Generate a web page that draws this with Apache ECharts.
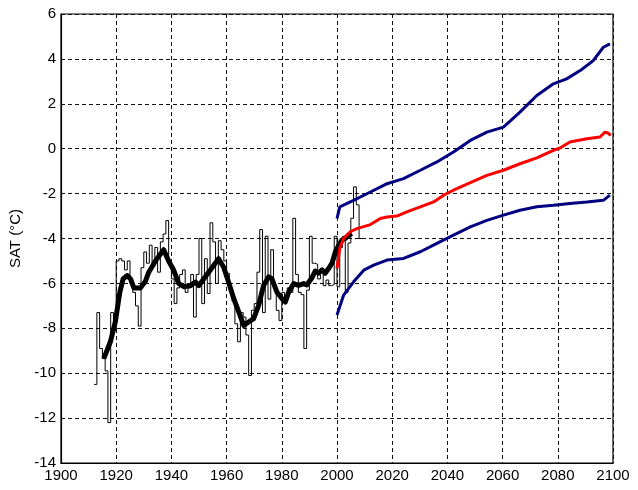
<!DOCTYPE html>
<html>
<head>
<meta charset="utf-8">
<title>SAT</title>
<script src="https://cdn.jsdelivr.net/npm/echarts@6/dist/echarts.min.js"></script>
<style>
	html, body { margin: 0; padding: 0; background: #ffffff; }
	#main { width: 638px; height: 490px; }
</style>
</head>
<body>
<div id="main"></div>
<script>

// annual values (stairs), first year 1912
var annualStart = 1912;
var annualValues = [
	-10.5, -7.3, -8.9, -9.35, -9.9, -12.2, -7.3, -8.1, -5.0, -4.9,
	-5.0, -5.4, -5.0, -6.0, -6.4, -7.0, -7.9, -5.3, -4.6, -5.1,
	-4.3, -5.2, -4.4, -5.5, -4.15, -3.8, -3.2, -5.0, -5.8, -6.9,
	-6.2, -5.6, -5.4, -6.4, -6.2, -5.6, -7.5, -5.6, -4.0, -6.9,
	-4.9, -6.45, -3.3, -4.15, -6.0, -4.1, -4.5, -5.0, -5.55, -6.2,
	-6.8, -7.8, -8.6, -7.3, -7.5, -8.3, -10.1, -7.2, -6.9, -5.5,
	-3.6, -7.3, -3.9, -6.7, -4.5, -6.2, -7.2, -7.65, -6.4, -6.7,
	-6.2, -6.4, -3.1, -5.6, -6.4, -6.5, -8.9, -6.3, -3.9, -5.1,
	-5.15, -5.8, -5.4, -6.1, -5.85, -6.1, -6.05, -3.9, -6.15, -4.4,
	-3.9, -6.4, -4.2, -3.1, -1.7, -2.5, -4.0, -4.0
];

// smoothed observations (thick black)
var smoothYears = [1915.5, 1917.9, 1919.7, 1921.3, 1922.5, 1924, 1925.2, 1926.4, 1928.8, 1930.6,
	1931.8, 1934.2, 1936, 1937.2, 1939, 1940.8, 1942.6, 1944.5, 1946.9, 1948.7,
	1949.9, 1951.7, 1953.5, 1955.3, 1957.1, 1958.9, 1960.7, 1962.6, 1964.4, 1966.2,
	1968, 1969.8, 1971.6, 1973.4, 1975.2, 1976.4, 1978.2, 1980.1, 1981.3, 1982.5,
	1984.3, 1986.1, 1987.9, 1989.1, 1990.9, 1992.1, 1993.3, 1994.6, 1995.7, 1996.9,
	1998.2, 1999.4, 2000.6, 2001.8, 2003, 2004.2, 2005.4];
var smoothValues = [-9.35, -8.6, -7.7, -6.4, -5.8, -5.65, -5.8, -6.2, -6.2, -5.9,
	-5.5, -5.0, -4.7, -4.5, -5.0, -5.4, -6.0, -6.15, -6.1, -5.94,
	-6.1, -5.8, -5.5, -5.2, -4.9, -5.27, -5.94, -6.68, -7.27, -7.87,
	-7.72, -7.57, -6.98, -6.09, -5.71, -5.79, -6.38, -6.68, -6.83, -6.38,
	-6.01, -6.09, -6.01, -6.07, -5.75, -5.45, -5.55, -5.4, -5.55, -5.35,
	-5.1, -4.6, -4.3, -4.07, -4.0, -3.85, -3.78];

// projection, mean (red)
var meanYears = [2000, 2001, 2002.4, 2004.8, 2007.2, 2012.1, 2015.7, 2018.1, 2021.7, 2025.3,
	2030.2, 2035, 2038.6, 2042.2, 2048.3, 2054.3, 2060.3, 2066.3, 2072.4, 2078.4,
	2080.8, 2084.4, 2090.5, 2095.3, 2097.1, 2098, 2099.2];
var meanValues = [-5.33, -4.44, -4.0, -3.7, -3.56, -3.38, -3.11, -3.04, -3.0, -2.81,
	-2.59, -2.37, -2.07, -1.85, -1.51, -1.19, -0.96, -0.67, -0.41, -0.07,
	0.03, 0.3, 0.44, 0.52, 0.74, 0.71, 0.59];

// projection, upper bound (blue)
var upperYears = [2000, 2001, 2006, 2012.1, 2016.9, 2018.1, 2024.1, 2030.2, 2036.2, 2042.2,
	2048.3, 2054.3, 2060.3, 2066.3, 2072.4, 2078.4, 2083.2, 2088.1, 2092.9, 2096.5, 2098.9];
var upperValues = [-3.11, -2.59, -2.3, -1.93, -1.63, -1.56, -1.33, -0.96, -0.59, -0.15,
	0.37, 0.74, 0.96, 1.63, 2.37, 2.89, 3.11, 3.48, 3.93, 4.52, 4.67];

// projection, lower bound (blue)
var lowerYears = [2000, 2002.4, 2006, 2009.7, 2013.3, 2018.1, 2024.1, 2030.2, 2036.2, 2042.2,
	2048.3, 2054.3, 2060.3, 2066.3, 2072.4, 2078.4, 2084.4, 2090.5, 2096.5, 2098.9];
var lowerValues = [-7.41, -6.52, -5.93, -5.41, -5.19, -4.96, -4.89, -4.59, -4.22, -3.85,
	-3.48, -3.19, -2.96, -2.74, -2.59, -2.52, -2.44, -2.37, -2.3, -2.07];

var xTicks = { min: 1900, max: 2100, step: 20 };
var yTicks = { min: -14, max: 6, step: 2 };

function pairs(xs, ys) {
	var out = [];
	for (var i = 0; i < xs.length; i++) {
		out.push([xs[i], ys[i]]);
	}
	return out;
}

window.onload = () => {

	var myChart = echarts.init(document.getElementById('main'));

	var annual = [];
	for (var i = 0; i < annualValues.length; i++) {
		annual.push([annualStart + i, annualValues[i]]);
	}

	var font = '"Liberation Sans", Arial, sans-serif';
	var dashed = { color: '#111', width: 1, type: [4, 3] };

	var option = {
		animation: false,
		backgroundColor: '#ffffff',
		grid: {
			left: 61, right: 25, top: 14, bottom: 27,
			show: true, borderColor: '#000', borderWidth: 1.2
		},
		xAxis: {
			type: 'value',
			min: xTicks.min, max: xTicks.max, interval: xTicks.step,
			axisLine: { show: true, onZero: false, lineStyle: { color: '#000', width: 1.2 } },
			axisTick: { show: false },
			splitLine: { show: true, lineStyle: dashed },
			axisLabel: {
				color: '#000', fontSize: 15, fontFamily: font, margin: 5,
				formatter: function (v) { return String(v); }
			}
		},
		yAxis: {
			type: 'value',
			min: yTicks.min, max: yTicks.max, interval: yTicks.step,
			name: 'SAT (°C)',
			nameLocation: 'middle',
			nameGap: 36,
			nameTextStyle: { color: '#000', fontSize: 15, fontFamily: font },
			axisLine: { show: true, onZero: false, lineStyle: { color: '#000', width: 1.2 } },
			axisTick: { show: false },
			splitLine: { show: true, lineStyle: dashed },
			axisLabel: { color: '#000', fontSize: 15, fontFamily: font, margin: 5 }
		},
		series: [
			{
				type: 'line', step: 'end', data: annual, symbol: 'none', z: 2,
				lineStyle: { color: '#000', width: 1 }
			},
			{
				type: 'line', data: pairs(smoothYears, smoothValues), symbol: 'none', z: 3,
				lineStyle: { color: '#000', width: 5, join: 'round' }
			},
			{
				type: 'line', data: pairs(upperYears, upperValues), symbol: 'none', z: 4,
				lineStyle: { color: '#000080', width: 3 }
			},
			{
				type: 'line', data: pairs(lowerYears, lowerValues), symbol: 'none', z: 4,
				lineStyle: { color: '#000080', width: 3 }
			},
			{
				type: 'line', data: pairs(meanYears, meanValues), symbol: 'none', z: 5,
				lineStyle: { color: '#ff0000', width: 3 }
			}
		]
	};

	myChart.setOption(option);
};
</script>
</body>
</html>
